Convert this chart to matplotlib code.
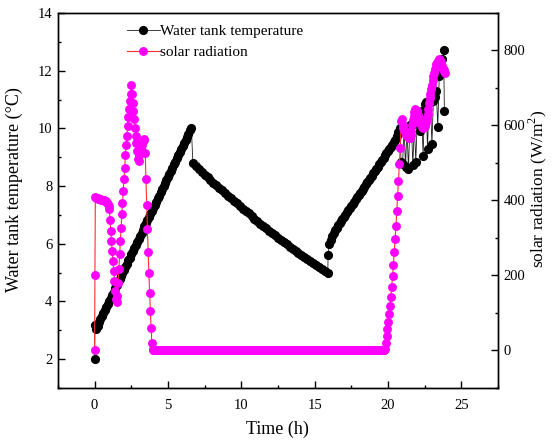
import numpy as np
import matplotlib
matplotlib.use("Agg")
import matplotlib.pyplot as plt
from matplotlib.ticker import MultipleLocator

plt.rcParams['font.family'] = ['Liberation Serif', 'DejaVu Serif']
plt.rcParams['mathtext.fontset'] = 'custom'
plt.rcParams['mathtext.rm'] = 'Liberation Serif'

# ---------------- Water tank temperature (°C) ----------------
temp_start_t = [0.0, 0.02]
temp_start_v = [2.0, 3.2]

rise1_t = [round(0.1 * i, 2) for i in range(1, 67)]  # 0.1 .. 6.6
rise1_v = [3.05, 3.16, 3.27, 3.38, 3.48, 3.59, 3.70, 3.81, 3.91, 4.02,
           4.13, 4.24, 4.34, 4.45, 4.56, 4.66, 4.77, 4.88, 4.99, 5.09,
           5.20, 5.31, 5.42, 5.52, 5.63, 5.74, 5.85, 5.95, 6.06, 6.17,
           6.28, 6.38, 6.49, 6.60, 6.71, 6.81, 6.92, 7.03, 7.14, 7.24,
           7.35, 7.46, 7.57, 7.67, 7.78, 7.89, 7.99, 8.10, 8.21, 8.32,
           8.42, 8.53, 8.64, 8.75, 8.85, 8.96, 9.07, 9.18, 9.28, 9.39,
           9.50, 9.61, 9.71, 9.82, 9.93, 10.00]

decay_t = [round(6.7 + 0.2 * i, 2) for i in range(47)]  # 6.7 .. 15.9
decay_v = [8.80, 8.69, 8.58, 8.48, 8.39, 8.30, 8.21, 8.12, 8.03, 7.94,
           7.85, 7.76, 7.67, 7.58, 7.49, 7.40, 7.31, 7.22, 7.13, 7.05,
           6.96, 6.87, 6.78, 6.70, 6.61, 6.53, 6.45, 6.37, 6.29, 6.21,
           6.13, 6.05, 5.98, 5.90, 5.83, 5.76, 5.69, 5.62, 5.55, 5.48,
           5.41, 5.34, 5.27, 5.20, 5.13, 5.06, 4.99]

rise2_t = [15.92] + [round(16.0 + 0.1 * i, 2) for i in range(49)]  # 16.0 .. 20.8
rise2_v = [5.60,
           5.98, 6.13, 6.26, 6.37, 6.47, 6.56, 6.64, 6.71, 6.79, 6.86,
           6.94, 7.01, 7.09, 7.16, 7.24, 7.31, 7.39, 7.46, 7.54, 7.61,
           7.68, 7.76, 7.83, 7.91, 7.98, 8.06, 8.13, 8.21, 8.29, 8.36,
           8.44, 8.52, 8.59, 8.67, 8.75, 8.82, 8.90, 8.98, 9.06, 9.13,
           9.21, 9.29, 9.36, 9.44, 9.52, 9.60, 9.72, 9.88, 10.02]

saw_t = [20.9, 21.0, 21.1, 21.2, 21.3, 21.4, 21.5, 21.6, 21.7, 21.8,
         21.9, 22.0, 22.1, 22.2, 22.3, 22.4, 22.5, 22.6, 22.7, 22.8,
         22.9, 23.0, 23.1, 23.2, 23.3, 23.4, 23.5, 23.6, 23.7, 23.8, 23.85]
saw_v = [8.85, 8.75, 10.05, 8.65, 10.05, 8.58, 10.10, 10.10, 8.72, 10.15,
         8.85, 10.25, 10.35, 9.92, 10.60, 9.05, 10.85, 10.90, 9.30, 10.90,
         10.90, 9.46, 10.95, 11.10, 11.30, 10.04, 11.80, 12.10, 12.40, 12.70, 10.60]

temp_t = temp_start_t + rise1_t + decay_t + rise2_t + saw_t
temp_v = temp_start_v + rise1_v + decay_v + rise2_v + saw_v

# ---------------- Solar radiation (W/m^2) ----------------
morning_t = [0.0, 0.02] + [round(0.05 * i, 2) for i in range(1, 80)]  # 0.05 .. 3.95
morning_r = [0, 202,
             408, 407, 407, 406, 405, 405, 404, 403, 402, 402,
             401, 401, 400, 399, 398, 396, 394, 391, 386, 376,
             347, 318, 291, 265, 238, 211, 185, 158, 136, 128,
             145, 181, 216, 256, 291, 327, 363, 394, 425, 456,
             487, 520, 549, 573, 598, 622, 644, 665, 685, 707,
             683, 660, 638, 616, 594, 571, 552, 531, 511, 505,
             520, 545, 535, 531, 548, 558, 563, 560, 527, 456,
             387, 323, 262, 207, 154, 105, 60, 20, 3]

night_t = [round(4.0 + 0.05 * i, 2) for i in range(316)]  # 4.0 .. 19.75
night_r = [0] * len(night_t)

evening_t = [19.80, 19.86, 19.92, 19.97, 20.03, 20.09, 20.14, 20.20, 20.26, 20.32,
             20.37, 20.43, 20.49, 20.55, 20.60, 20.66, 20.72, 20.78, 20.84, 20.90,
             20.95, 21.0, 21.05, 21.1, 21.15, 21.2, 21.25, 21.3, 21.35, 21.4,
             21.45, 21.5, 21.55, 21.6, 21.65, 21.7, 21.75, 21.8, 21.85, 21.9,
             21.95, 22.0, 22.05, 22.1, 22.15, 22.2, 22.25, 22.3, 22.35, 22.4,
             22.45, 22.5, 22.55, 22.6, 22.65, 22.7, 22.75, 22.8, 22.85, 22.9,
             22.95, 23.0, 23.05, 23.1, 23.15, 23.2, 23.25, 23.3, 23.35, 23.4,
             23.45, 23.5, 23.55, 23.6, 23.65, 23.7, 23.75, 23.8, 23.85, 23.9]
evening_r = [3, 21, 38, 58, 75, 96, 118, 143, 170, 198,
             229, 262, 298, 333, 371, 411, 451, 496, 540, 611,
             616, 600, 594, 589, 583, 578, 574, 571, 569, 568,
             567, 567, 575, 585, 600, 615, 625, 635, 643, 641,
             638, 635, 628, 620, 613, 607, 603, 600, 597, 594,
             596, 598, 604, 610, 616, 630, 645, 660, 672, 685,
             697, 708, 720, 731, 741, 750, 757, 763, 767, 771,
             774, 776, 774, 769, 763, 758, 753, 748, 744, 740]

solar_t = morning_t + night_t + evening_t
solar_r = morning_r + night_r + evening_r

# ---------------- Figure ----------------
fig = plt.figure(figsize=(5.52, 4.48), dpi=100)
ax1 = fig.add_axes([0.105, 0.134, 0.797, 0.837])
ax2 = ax1.twinx()

l1, = ax1.plot(temp_t, temp_v, color='#202020', lw=0.6, marker='o', ms=6.6,
               mfc='black', mec='black', mew=0, label='Water tank temperature')
l2, = ax2.plot(solar_t, solar_r, color='#ff3030', lw=0.8, marker='o', ms=6.4,
               mfc='#ff00ff', mec='#ff00ff', mew=0, label='solar radiation')

ax1.set_xlim(-2.5, 27.5)
ax1.set_ylim(1, 14)
ax2.set_ylim(-100, 900)

ax1.xaxis.set_major_locator(MultipleLocator(5))
ax1.xaxis.set_minor_locator(MultipleLocator(2.5))
ax1.yaxis.set_major_locator(MultipleLocator(2))
ax1.yaxis.set_minor_locator(MultipleLocator(1))
ax2.yaxis.set_major_locator(MultipleLocator(200))
ax2.yaxis.set_minor_locator(MultipleLocator(100))

for ax in (ax1, ax2):
    ax.tick_params(which='both', direction='in', width=1, labelsize=10.5)
    ax.tick_params(which='major', length=5)
    ax.tick_params(which='minor', length=2.5)
    for s in ax.spines.values():
        s.set_linewidth(1)
ax1.tick_params(axis='x', which='both', top=False, pad=8)
ax1.tick_params(axis='y', which='both', right=False, pad=4)
ax2.tick_params(axis='y', which='both', left=False, pad=4)

ax1.set_xlabel('Time (h)', fontsize=13, labelpad=6)
ax1.set_ylabel('Water tank temperature (°C)', fontsize=13)
ax2.set_ylabel('solar radiation (W/m$^2$)', fontsize=12.5)
ax1.yaxis.set_label_coords(-0.08, 0.53)
ax2.yaxis.set_label_coords(1.066, 0.53)

ax1.legend(handles=[l1, l2], loc='upper left', bbox_to_anchor=(0.135, 0.993),
           frameon=False, fontsize=11, handlelength=2.2, handletextpad=0.0,
           labelspacing=0.45, borderaxespad=0.2)

fig.savefig('out.png', dpi=100)
